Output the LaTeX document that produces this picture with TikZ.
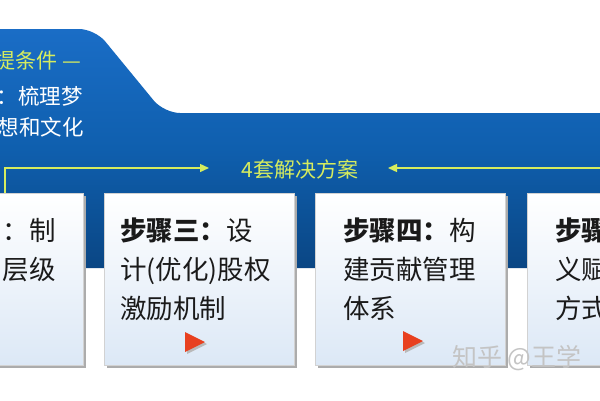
\documentclass[tikz,border=0pt]{standalone}
\usepackage{fontspec}
\newfontfamily\cjk{Noto Sans CJK SC}
\usetikzlibrary{arrows.meta,shadows}
\definecolor{bandtop}{HTML}{1A6DC6}
\definecolor{bandmid}{HTML}{0F5FAE}
\definecolor{bandbot}{HTML}{0A4684}
\definecolor{accent}{HTML}{D6EC5E}
\definecolor{boxbot}{HTML}{DCE8F6}
\definecolor{tri}{HTML}{E8401F}
\definecolor{txt}{HTML}{1A1A1A}
\definecolor{wmark}{HTML}{C4C4C4}
\begin{document}
\begin{tikzpicture}[x=1pt,y=-1pt,
  stepbox/.style={draw=gray!35,line width=0.5pt,top color=white,bottom color=boxbot,
    minimum width=190pt,minimum height=172pt,inner sep=0pt,anchor=north west,
    drop shadow={shadow xshift=2.5pt,shadow yshift=-2.5pt,fill=gray!65,opacity=1}},
  boxtxt/.style={font=\cjk\fontsize{26.5}{30}\selectfont,text=txt,inner sep=0pt,anchor=base west},
  boxtxtr/.style={boxtxt,anchor=base east},
  bandtxt/.style={font=\cjk\fontsize{21.5}{25}\selectfont,text=white,inner sep=0pt,anchor=base east},
  acctxt/.style={font=\cjk\fontsize{21}{25}\selectfont,text=accent,inner sep=0pt},
  accline/.style={draw=accent,line width=1.4pt,-{Triangle[length=9pt,width=8pt]}},
  playtri/.style={fill=tri},
  trishadow/.style={fill=gray!55}
]
\useasboundingbox (0,0) rectangle (600,400);
\clip (0,0) rectangle (600,400);
\fill[white] (0,0) rectangle (600,400);
% blue band
\shade[top color=bandtop,bottom color=bandbot,middle color=bandmid,rounded corners=16pt]
  (-20,29) -- (95,29) -- (164,113) -- (620,113) -- (620,268) -- (-20,268) -- cycle;
% top-left texts
\node[acctxt,anchor=base east] (pre) at (81,68) {提条件 —};
\node[bandtxt] (l2) at (83,104) {：梳理梦};
\node[bandtxt] (l3) at (84,135) {想和文化};
% solutions title and arrows
\node[acctxt,anchor=base] (sol) at (300,177) {4套解决方案};
\coordinate (la) at (5,195);
\coordinate (lb) at (209,168);
\coordinate (ra) at (610,168);
\coordinate (rb) at (388,168);
\draw[accline] (la) |- (lb);
\draw[accline] (ra) -- (rb);
% boxes
\node[stepbox] (b1) at (-107,193) {};
\node[stepbox] (b2) at (104,193) {};
\node[stepbox] (b3) at (315,193) {};
\node[stepbox] (b4) at (527,193) {};
% box 1 text
\node[boxtxtr] (t1a) at (56,240) {：制};
\node[boxtxtr] (t1b) at (56,279) {层级};
% box 2 text
\node[boxtxt] (t2a) at (120,240) {\bfseries 步骤三：\mdseries 设};
\node[boxtxt] (t2b) at (120,279) {计(优化)股权};
\node[boxtxt] (t2c) at (120,318) {激励机制};
% box 3 text
\node[boxtxt] (t3a) at (343,240) {\bfseries 步骤四：\mdseries 构};
\node[boxtxt] (t3b) at (343,279) {建贡献管理};
\node[boxtxt] (t3c) at (343,318) {体系};
% box 4 text
\node[boxtxt] (t4a) at (555,240) {\bfseries 步骤};
\node[boxtxt] (t4b) at (555,279) {义赋};
\node[boxtxt] (t4c) at (555,318) {方式};
% play triangles
\fill[trishadow] (187,334) -- (207,344) -- (187,354) -- cycle;
\fill[playtri] (185,332) -- (205,342) -- (185,352) -- cycle;
\fill[trishadow] (405,333) -- (425,343) -- (405,353) -- cycle;
\fill[playtri] (403,331) -- (423,341) -- (403,351) -- cycle;
% watermark
\node[font=\cjk\fontsize{25}{28}\selectfont,text=wmark,inner sep=0pt,anchor=base west] (wm) at (452,366) {知乎 @王学};
\end{tikzpicture}
\end{document}
